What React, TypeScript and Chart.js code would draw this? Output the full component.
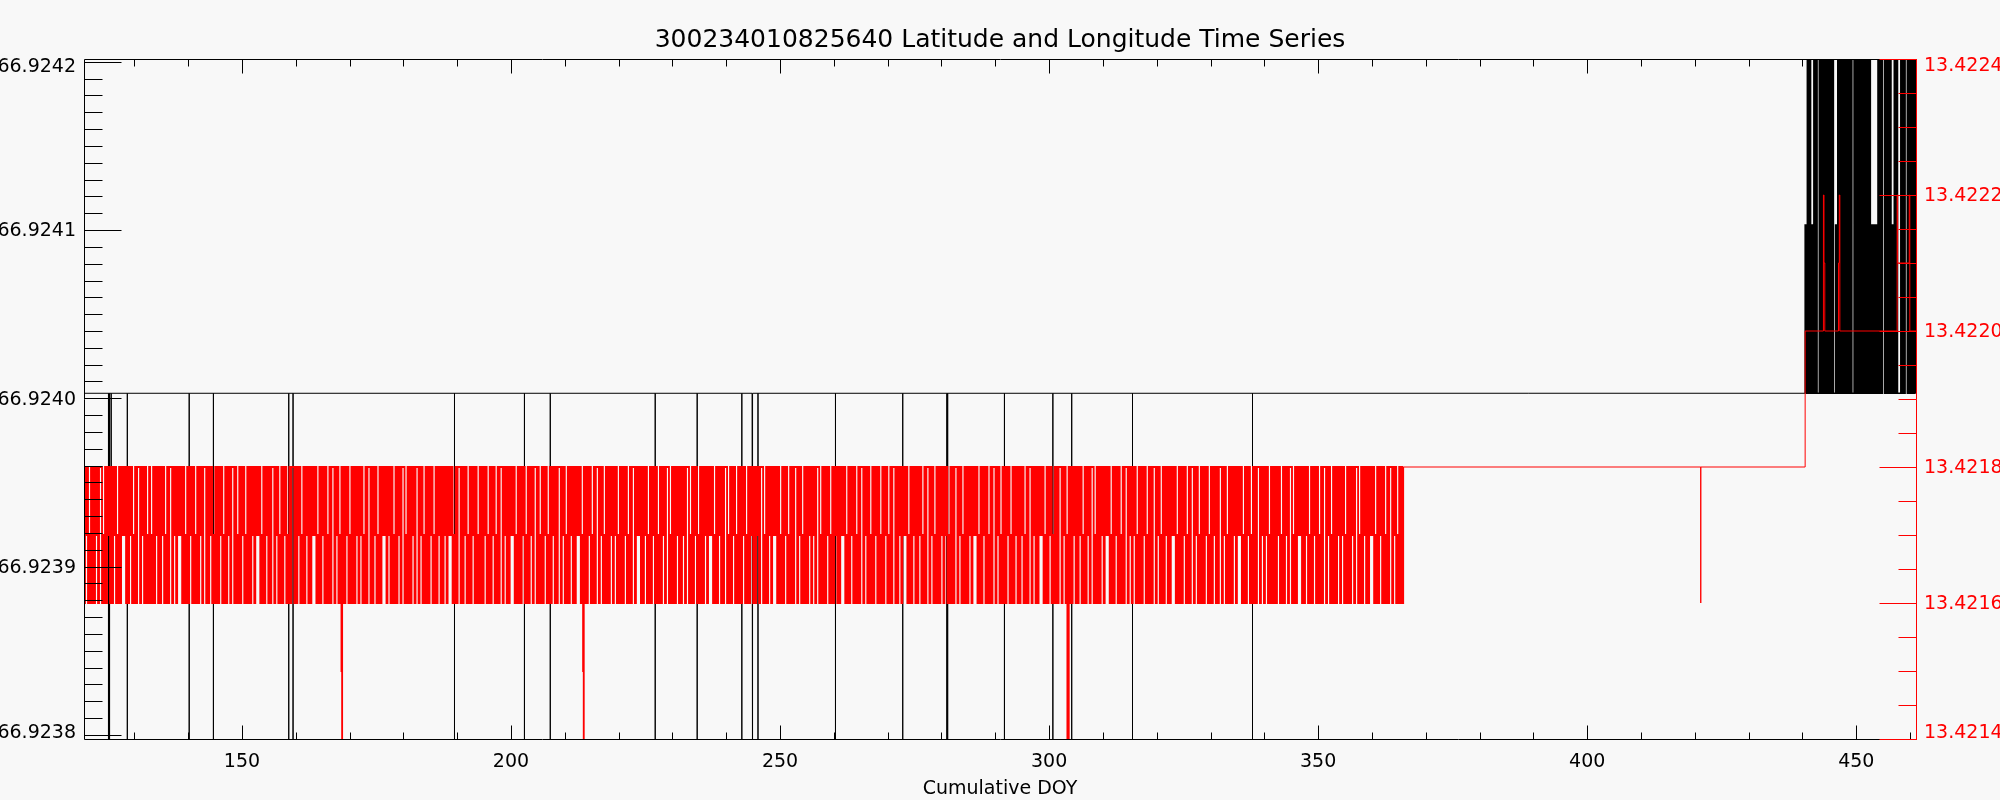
import React, { useEffect, useRef } from 'react';
import { Chart, registerables } from 'chart.js';

Chart.register(...registerables);

// ---------------- text ----------------
const TITLE = '300234010825640 Latitude and Longitude Time Series';
const X_TITLE = 'Cumulative DOY';
const FONT = 'DejaVu Sans';
const BG = '#f8f8f8';
const RED = '#ff0000';

// ---------------- axes ----------------
const X_MIN = 120.65;
const X_MAX = 461.1;
const X_TICKS = [150, 200, 250, 300, 350, 400, 450];

const LAT_MIN = 66.9237976;
const LAT_MAX = 66.9242016;
const LAT_TICKS = [66.9238, 66.9239, 66.924, 66.9241, 66.9242];

const LON_MIN = 13.4214;
const LON_MAX = 13.4224;
const LON_TICKS = [13.4214, 13.4216, 13.4218, 13.422, 13.4222, 13.4224];

// ---------------- latitude (black, left axis) ----------------
const LAT_BASE = 66.924003;
// isolated drop-outs of the latitude series (DOY, value reached)
const LAT_SPIKE_X = [125.2, 125.4, 125.7, 128.7, 140.2, 144.7, 158.7, 159.5, 189.5, 202.5, 207.3, 226.8, 234.6, 242.9, 244.8, 244.95, 245.9, 260.3, 272.8, 281.0, 281.15, 291.7, 300.7, 304.2, 315.5, 337.8];
const LAT_SPIKE_Y = [66.92375, 66.92375, 66.9239, 66.92375, 66.92375, 66.92375, 66.92375, 66.92375, 66.92375, 66.92375, 66.92375, 66.92375, 66.92375, 66.92375, 66.92375, 66.92375, 66.92375, 66.92375, 66.92375, 66.92375, 66.92375, 66.92375, 66.92375, 66.92375, 66.92375, 66.92375];
// noisy period at the end: sampled levels (0 = 66.924003, 1 = 66.924103, 2 = 66.9242016)
const LAT_DENSE_START = 440.5;
const LAT_DENSE_END = 461.1;
const LAT_DENSE_LEVELS = [66.924003, 66.924103, 66.9242016];
const LAT_DENSE_CODES =
  '10' + '202' + '010' + '2020' + '0' + '20202020202020' + '010' + '20202020202020' + '0' +
  '202020202020202' + '0101010' + '20202' + '2' + '0202020' + '10' + '2020' + '00' + '20202' + '2' + '020202020';

// ---------------- longitude (red, right axis) ----------------
const LON_BAND_START = 120.65;
const LON_BAND_END = 365.8;
// sampled levels (0 = 13.4218, 1 = 13.4217, 2 = 13.4216), written as short recurring sample groups
const LON_BAND_LEVELS = [13.4218, 13.4217, 13.4216];
const LON_GROUPS: Record<string, string> = { a: '20', b: '2010', t: '2120', w: '2000', B: '201010' };
const LON_BAND_GROUPS = [
  'btabwtbabtBabtwbat',
  'tbabtwbBatbatbwabt',
  'abtbwatbtabBtbawbt',
  'btwabtbaBtbatwbtab',
  'tabbtwabtBbatbwtab',
  'wbtabtbabBtwabtbat',
  'abtbtwbaBtabtbwatb',
  'tbawbtbaBtabtwbtab',
  'btabtwBabtbatbwtab',
  'abwtbtabBtbawtbtab',
  'tbabwtbBatbtawbtab',
  'bwtabtbaBtbatwbatb',
  'atbtwabBtbabtwbtab',
  'btawbtabBtbatwbtab',
  'tbabtwbaBtbtawbtab',
  'abtbwtabBtbatwbbta',
  'btawbtbaBtabtwbtab',
  'tbawbtabBtbtawbbta',
  'abtbwtBabtbatwbtab',
  'btabwtbaBtbatwbtaa',
].join('');
// drop-outs inside the noisy band (DOY, value reached)
const LON_SPIKE_X = [168.5, 168.62, 213.4, 213.52, 303.4, 303.65];
const LON_SPIKE_Y = [13.4215, 13.42135, 13.4215, 13.42135, 13.42135, 13.42135];
// quiet period and the final jump (DOY, value)
const LON_TAIL_X = [365.8, 421.1, 421.1, 440.5, 443.9, 444.0, 444.15, 446.7, 446.85, 446.95, 457.6, 457.7, 459.85, 459.95, 461.1];
const LON_TAIL_Y = [13.4218, 13.4216, 13.4218, 13.422, 13.4222, 13.4221, 13.422, 13.4221, 13.4222, 13.422, 13.4222, 13.4221, 13.4222, 13.422, 13.422];

type P = { x: number; y: number };

function latSpikePoints(): P[] {
  const pts: P[] = [{ x: X_MIN, y: LAT_BASE }];
  LAT_SPIKE_X.forEach((x, i) => {
    pts.push({ x, y: LAT_BASE }, { x, y: LAT_SPIKE_Y[i] }, { x, y: LAT_BASE });
  });
  pts.push({ x: LAT_DENSE_START, y: LAT_BASE });
  return pts;
}

function latDensePoints(): P[] {
  const n = LAT_DENSE_CODES.length;
  const step = (LAT_DENSE_END - LAT_DENSE_START) / (n - 1);
  const pts: P[] = [{ x: LAT_DENSE_START, y: LAT_BASE }];
  for (let i = 0; i < n; i++) {
    pts.push({ x: LAT_DENSE_START + i * step, y: LAT_DENSE_LEVELS[+LAT_DENSE_CODES[i]] });
  }
  return pts;
}

function lonBandPoints(): P[] {
  const codes = LON_BAND_GROUPS.split('').map((g) => LON_GROUPS[g]).join('');
  const n = codes.length;
  const step = (LON_BAND_END - LON_BAND_START) / (n - 1);
  const pts: P[] = [];
  let si = 0;
  for (let i = 0; i < n; i++) {
    const x = LON_BAND_START + i * step;
    const v = LON_BAND_LEVELS[+codes[i]];
    pts.push({ x, y: v });
    while (si < LON_SPIKE_X.length && LON_SPIKE_X[si] < x + step) {
      do {
        pts.push({ x: LON_SPIKE_X[si], y: LON_SPIKE_Y[si] });
        si++;
      } while (si < LON_SPIKE_X.length && LON_SPIKE_X[si] - LON_SPIKE_X[si - 1] <= 0.2);
      pts.push({ x: LON_SPIKE_X[si - 1], y: v });
    }
  }
  return pts;
}

function lonTailPoints(): P[] {
  return LON_TAIL_X.map((x, i) => ({ x, y: LON_TAIL_Y[i] }));
}

const idlAxes = {
  id: 'idlAxes',
  beforeDraw(chart: any) {
    const { ctx, width, height } = chart;
    ctx.save();
    ctx.fillStyle = BG;
    ctx.fillRect(0, 0, width, height);
    ctx.restore();
  },
  afterDatasetsDraw(chart: any) {
    const { ctx, chartArea } = chart;
    const sx = chart.scales.x;
    const sl = chart.scales.yLat;
    const sr = chart.scales.yLon;
    const L = Math.round(chartArea.left) + 0.5;
    const R = Math.round(chartArea.right) + 0.5;
    const T = Math.round(chartArea.top) + 0.5;
    const B = Math.round(chartArea.bottom) + 0.5;
    ctx.save();
    ctx.lineWidth = 1;
    ctx.strokeStyle = '#000';
    ctx.beginPath();
    ctx.moveTo(R, T);
    ctx.lineTo(L, T);
    ctx.lineTo(L, B);
    ctx.lineTo(R, B);
    const xMajor = X_TICKS[1] - X_TICKS[0];
    const xMinor = xMajor / 5;
    for (let v = Math.ceil(X_MIN / xMinor) * xMinor; v <= X_MAX; v += xMinor) {
      const px = Math.round(sx.getPixelForValue(v)) + 0.5;
      const len = Math.abs(v % xMajor) < 1e-6 ? 14 : 7;
      ctx.moveTo(px, B);
      ctx.lineTo(px, B - len);
      ctx.moveTo(px, T);
      ctx.lineTo(px, T + len);
    }
    const latStep = (LAT_TICKS[1] - LAT_TICKS[0]) / 10;
    for (let i = 0; i <= (LAT_TICKS.length - 1) * 10; i++) {
      const v = LAT_TICKS[0] + i * latStep;
      const py = Math.round(sl.getPixelForValue(v)) + 0.5;
      const len = i % 10 === 0 ? 37 : 18;
      ctx.moveTo(L, py);
      ctx.lineTo(L + len, py);
    }
    ctx.stroke();

    ctx.strokeStyle = RED;
    ctx.beginPath();
    ctx.moveTo(R, T - 0.5);
    ctx.lineTo(R, B + 0.5);
    const lonStep = (LON_TICKS[1] - LON_TICKS[0]) / 4;
    for (let i = 0; i <= (LON_TICKS.length - 1) * 4; i++) {
      const v = LON_TICKS[0] + i * lonStep;
      const py = Math.round(sr.getPixelForValue(v)) + 0.5;
      const len = i % 4 === 0 ? 37 : 18;
      ctx.moveTo(R, py);
      ctx.lineTo(R - len, py);
    }
    ctx.stroke();
    ctx.restore();
  },
};

function edgeLabel(ticksArr: number[], digits: number) {
  return (value: any, index: number) => {
    const s = Number(value).toFixed(digits);
    if (index === 0) return [s, ''];
    if (index === ticksArr.length - 1) return ['', s];
    return s;
  };
}

function edgeFont(ticksArr: number[], bottomLH: string, topLH: string) {
  return (ctx: any) => ({
    family: FONT,
    size: 19,
    lineHeight: ctx.index === 0 ? bottomLH : ctx.index === ticksArr.length - 1 ? topLH : 1.2,
  });
}

export default function App() {
  const ref = useRef<HTMLCanvasElement>(null);

  useEffect(() => {
    if (!ref.current) return;
    const chart = new Chart(ref.current, {
      type: 'scatter',
      data: {
        datasets: [
          {
            label: 'Longitude (band)',
            data: lonBandPoints(),
            xAxisID: 'x',
            yAxisID: 'yLon',
            showLine: true,
            stepped: true,
            borderColor: RED,
            borderWidth: 1.85,
            pointRadius: 0,
            order: 0,
          },
          {
            label: 'Longitude (tail)',
            data: lonTailPoints(),
            xAxisID: 'x',
            yAxisID: 'yLon',
            showLine: true,
            stepped: true,
            borderColor: RED,
            borderWidth: 1,
            pointRadius: 0,
            order: 0,
          },
          {
            label: 'Latitude',
            data: latSpikePoints(),
            xAxisID: 'x',
            yAxisID: 'yLat',
            showLine: true,
            borderColor: '#000',
            borderWidth: 1,
            pointRadius: 0,
            order: 1,
          },
          {
            label: 'Latitude (noisy)',
            data: latDensePoints(),
            xAxisID: 'x',
            yAxisID: 'yLat',
            showLine: true,
            stepped: true,
            borderColor: '#000',
            borderWidth: 1.5,
            pointRadius: 0,
            order: 1,
          },
        ],
      },
      options: {
        responsive: false,
        animation: false,
        devicePixelRatio: 1,
        events: [],
        layout: { padding: 0 },
        plugins: {
          legend: { display: false },
          tooltip: { enabled: false },
          title: {
            display: true,
            text: TITLE,
            color: '#000',
            font: { family: FONT, size: 25, weight: 'normal', lineHeight: 1.2 },
            padding: { top: 25, bottom: 4 },
          },
        },
        scales: {
          x: {
            type: 'linear',
            position: 'bottom',
            min: X_MIN,
            max: X_MAX,
            afterBuildTicks: (s: any) => {
              s.ticks = X_TICKS.map((v) => ({ value: v }));
            },
            afterFit: (s: any) => {
              s.height = 61;
            },
            grid: { display: false, drawTicks: false },
            border: { display: false },
            ticks: {
              color: '#000',
              font: { family: FONT, size: 19 },
              padding: 12,
              autoSkip: false,
              maxRotation: 0,
              callback: (v: any) => String(v),
            },
            title: {
              display: true,
              text: X_TITLE,
              color: '#000',
              font: { family: FONT, size: 19 },
              padding: { top: 0, bottom: 0 },
            },
          },
          yLat: {
            type: 'linear',
            position: 'left',
            min: LAT_MIN,
            max: LAT_MAX,
            afterBuildTicks: (s: any) => {
              s.ticks = LAT_TICKS.map((v) => ({ value: v }));
            },
            afterFit: (s: any) => {
              s.width = 84;
            },
            grid: { display: false, drawTicks: false },
            border: { display: false },
            ticks: {
              color: '#000',
              font: edgeFont(LAT_TICKS, '6.4px', '8.6px') as any,
              padding: 8,
              labelOffset: 1.5,
              autoSkip: false,
              callback: edgeLabel(LAT_TICKS, 4) as any,
            },
          },
          yLon: {
            type: 'linear',
            position: 'right',
            min: LON_MIN,
            max: LON_MAX,
            afterBuildTicks: (s: any) => {
              s.ticks = LON_TICKS.map((v) => ({ value: v }));
            },
            afterFit: (s: any) => {
              s.width = 84;
            },
            grid: { display: false, drawTicks: false },
            border: { display: false },
            ticks: {
              color: RED,
              font: edgeFont(LON_TICKS, '15.4px', '11px') as any,
              padding: 8,
              labelOffset: 1.5,
              autoSkip: false,
              callback: edgeLabel(LON_TICKS, 4) as any,
            },
          },
        },
      },
      plugins: [idlAxes],
    } as any);
    return () => chart.destroy();
  }, []);

  return (
    <div style={{ position: 'absolute', left: 0, top: 0, width: 2000, height: 800, background: BG }}>
      <canvas ref={ref} width={2000} height={800} style={{ display: 'block', width: 2000, height: 800 }} />
    </div>
  );
}
